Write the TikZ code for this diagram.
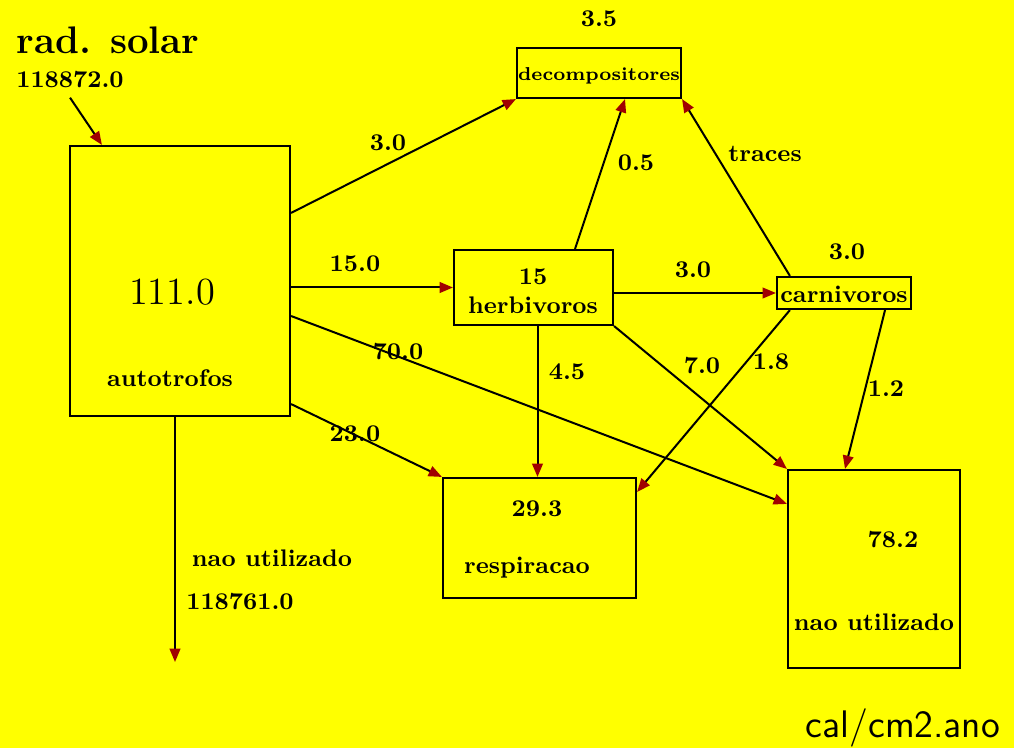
\documentclass[tikz,border=0pt]{standalone}
\usepackage{tikz}
\usetikzlibrary{arrows.meta, positioning, calc}
\usepackage{xcolor}
\definecolor{solaryellow}{RGB}{255,255,0}
\definecolor{tipred}{RGB}{160,0,0}

\begin{document}
\begin{tikzpicture}[x=0.375pt, y=-0.375pt, every node/.style={font=\small\bfseries},
    box/.style={draw, line width=0.8pt, inner sep=0pt},
    flow/.style={line width=0.75pt, -{Triangle[length=5pt, width=4pt, color=tipred]}}]
        \fill[solaryellow] (0,0) rectangle (1014,748);
        \useasboundingbox (0,0) rectangle (1014,748);

        % compartments
        \node[box, minimum width=82.5pt, minimum height=101.25pt] (auto) at (180,281) {};
        \node[box, minimum width=61.5pt, minimum height=18.75pt] (decomp) at (599,73) {};
        \node[box, minimum width=59.6pt, minimum height=28.1pt] (herb) at (533.5,287.5) {};
        \node[box, minimum width=50.25pt, minimum height=12pt] (carn) at (844,293) {};
        \node[box, minimum width=72.4pt, minimum height=45pt] (resp) at (539.5,538) {};
        \node[box, minimum width=64.5pt, minimum height=74.25pt] (nao) at (874,569) {};

        \node (autoval) at (172,292) {\Large\mdseries 111.0};
        \node (autoname) at (170,378) {autotrofos};
        \node (decompname) at (599,76) {\scriptsize decompositores};
        \node (decompval) at (599,19) {3.5};
        \node (herbval) at (533,277) {15};
        \node (herbname) at (533,305) {herbivoros};
        \node (carnname) at (844,294) {carnivoros};
        \node (carnval) at (847,252) {3.0};
        \node (respval) at (537,509) {29.3};
        \node (respname) at (527,568) {respiracao};
        \node (naoval) at (893,540) {78.2};
        \node (naoname) at (874,622) {nao utilizado};

        \node (solarname) at (108,40) {\Large rad. solar};
        \node (solarval) at (70,80) {118872.0};
        \node (lostname) at (272,558) {nao utilizado};
        \node (lostval) at (240,602) {118761.0};
        \node (units) at (903,728) {\Large\mdseries\sffamily cal/cm2.ano};
        \coordinate (sink) at (175,662);
        \coordinate (herbout) at ($(herb.south)+(4,0)$);

        % flow values
        \foreach \nm/\x/\y/\val in {
            lbdec/388/143/3.0, lbherb/355/264/15.0, lbnao/398/352/70.0,
            lbresp/355/434/23.0, lbhdec/636/163/0.5, lbcarn/693/270/3.0,
            lbhresp/567/372/4.5, lbhnao/702/366/7.0, lbtraces/765/154/traces,
            lbcresp/771/362/1.8, lbcnao/886/389/1.2}{
          \node (\nm) at (\x,\y) {\val};
        }

        % flows
        \draw[flow] (solarval.south) -- ($(auto.north west)+(33,0)$);
        \draw[flow] ($(auto.north east)+(0,68)$) -- (decomp.south west);
        \draw[flow] (auto.east |- herb.west) -- (herb.west);
        \draw[flow] ($(auto.east)+(0,35)$) -- ($(nao.north west)+(0,35)$);
        \draw[flow] ($(auto.south east)+(0,-13)$) -- (resp.north west);
        \draw[flow] ($(auto.south)+(-5,0)$) -- (sink);
        \draw[flow] ($(herb.north)+(41.5,0)$) -- ($(decomp.south)+(26,0)$);
        \draw[flow] (herb.east |- carn.west) -- (carn.west);
        \draw[flow] (herbout) -- (herbout |- resp.north);
        \draw[flow] (herb.south east) -- (nao.north west);
        \draw[flow] ($(carn.north west)+(14,0)$) -- (decomp.south east);
        \draw[flow] ($(carn.south west)+(14,0)$) -- ($(resp.north east)+(0,15)$);
        \draw[flow] ($(carn.south east)+(-27,0)$) -- ($(nao.north)+(-29,0)$);
      \end{tikzpicture}
\end{document}
